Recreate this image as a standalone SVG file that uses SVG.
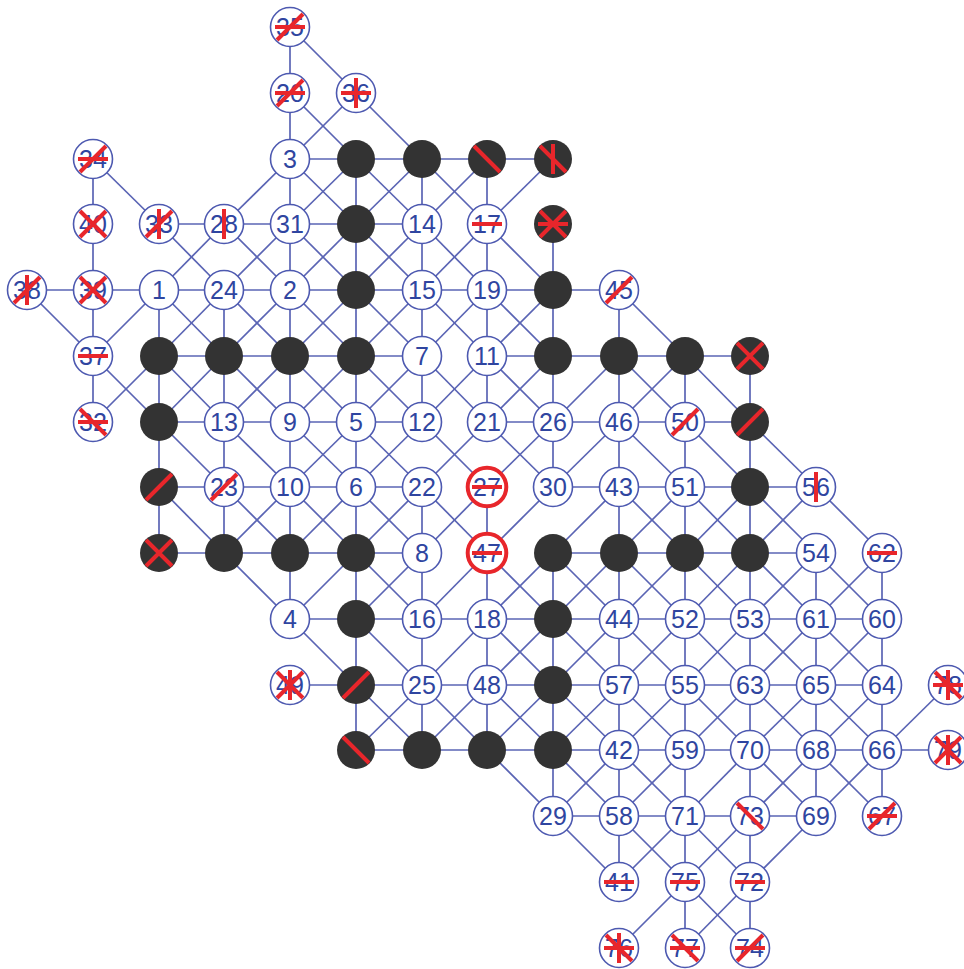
<svg xmlns="http://www.w3.org/2000/svg" width="964" height="969" viewBox="0 0 964 969">
<style>
.e line{stroke:#5a64b4;stroke-width:1.7}
.w{fill:#fff;stroke:#4d59b0;stroke-width:1.6}
.k{fill:#333}
.r{fill:#fff;stroke:#e8262b;stroke-width:4}
text{font-family:"Liberation Sans",Arial,sans-serif;font-size:25px;fill:#2f45a0;text-anchor:middle}
.m{stroke:#e8262b;stroke-width:4;fill:none}
</style>
<rect width="964" height="969" fill="#fff"/>
<g class="e" id="connectors">
<!-- horizontal -->
<line x1="290" y1="159" x2="356" y2="159"/><line x1="356" y1="159" x2="422" y2="159"/><line x1="422" y1="159" x2="487" y2="159"/><line x1="487" y1="159" x2="553" y2="159"/>
<line x1="159" y1="224" x2="224" y2="224"/><line x1="224" y1="224" x2="290" y2="224"/><line x1="290" y1="224" x2="356" y2="224"/><line x1="356" y1="224" x2="422" y2="224"/>
<line x1="27" y1="290" x2="93" y2="290"/><line x1="93" y1="290" x2="159" y2="290"/><line x1="159" y1="290" x2="224" y2="290"/><line x1="224" y1="290" x2="290" y2="290"/><line x1="290" y1="290" x2="356" y2="290"/><line x1="356" y1="290" x2="422" y2="290"/><line x1="422" y1="290" x2="487" y2="290"/><line x1="487" y1="290" x2="553" y2="290"/><line x1="553" y1="290" x2="619" y2="290"/>
<line x1="159" y1="356" x2="224" y2="356"/><line x1="224" y1="356" x2="290" y2="356"/><line x1="290" y1="356" x2="356" y2="356"/><line x1="356" y1="356" x2="422" y2="356"/><line x1="487" y1="356" x2="553" y2="356"/><line x1="553" y1="356" x2="619" y2="356"/><line x1="619" y1="356" x2="685" y2="356"/><line x1="685" y1="356" x2="750" y2="356"/>
<line x1="159" y1="422" x2="224" y2="422"/><line x1="224" y1="422" x2="290" y2="422"/><line x1="290" y1="422" x2="356" y2="422"/><line x1="356" y1="422" x2="422" y2="422"/><line x1="487" y1="422" x2="553" y2="422"/><line x1="553" y1="422" x2="619" y2="422"/><line x1="619" y1="422" x2="685" y2="422"/><line x1="685" y1="422" x2="750" y2="422"/>
<line x1="159" y1="487" x2="224" y2="487"/><line x1="224" y1="487" x2="290" y2="487"/><line x1="290" y1="487" x2="356" y2="487"/><line x1="356" y1="487" x2="422" y2="487"/><line x1="553" y1="487" x2="619" y2="487"/><line x1="619" y1="487" x2="685" y2="487"/><line x1="685" y1="487" x2="750" y2="487"/><line x1="750" y1="487" x2="816" y2="487"/>
<line x1="159" y1="553" x2="224" y2="553"/><line x1="224" y1="553" x2="290" y2="553"/><line x1="290" y1="553" x2="356" y2="553"/><line x1="356" y1="553" x2="422" y2="553"/><line x1="553" y1="553" x2="619" y2="553"/><line x1="619" y1="553" x2="685" y2="553"/><line x1="685" y1="553" x2="750" y2="553"/><line x1="750" y1="553" x2="816" y2="553"/>
<line x1="290" y1="619" x2="356" y2="619"/><line x1="356" y1="619" x2="422" y2="619"/><line x1="422" y1="619" x2="487" y2="619"/><line x1="487" y1="619" x2="553" y2="619"/><line x1="553" y1="619" x2="619" y2="619"/><line x1="619" y1="619" x2="685" y2="619"/><line x1="685" y1="619" x2="750" y2="619"/><line x1="750" y1="619" x2="816" y2="619"/><line x1="816" y1="619" x2="882" y2="619"/>
<line x1="290" y1="685" x2="356" y2="685"/><line x1="356" y1="685" x2="422" y2="685"/><line x1="422" y1="685" x2="487" y2="685"/><line x1="487" y1="685" x2="553" y2="685"/><line x1="553" y1="685" x2="619" y2="685"/><line x1="619" y1="685" x2="685" y2="685"/><line x1="685" y1="685" x2="750" y2="685"/><line x1="750" y1="685" x2="816" y2="685"/><line x1="816" y1="685" x2="882" y2="685"/>
<line x1="356" y1="750" x2="422" y2="750"/><line x1="422" y1="750" x2="487" y2="750"/><line x1="487" y1="750" x2="553" y2="750"/><line x1="553" y1="750" x2="619" y2="750"/><line x1="619" y1="750" x2="685" y2="750"/><line x1="685" y1="750" x2="750" y2="750"/><line x1="750" y1="750" x2="816" y2="750"/><line x1="816" y1="750" x2="882" y2="750"/><line x1="882" y1="750" x2="948" y2="750"/>
<line x1="553" y1="816" x2="619" y2="816"/><line x1="619" y1="816" x2="685" y2="816"/><line x1="685" y1="816" x2="750" y2="816"/><line x1="750" y1="816" x2="816" y2="816"/>
<!-- vertical -->
<line x1="93" y1="159" x2="93" y2="224"/><line x1="93" y1="224" x2="93" y2="290"/><line x1="93" y1="290" x2="93" y2="356"/><line x1="93" y1="356" x2="93" y2="422"/>
<line x1="159" y1="290" x2="159" y2="356"/><line x1="159" y1="356" x2="159" y2="422"/><line x1="159" y1="422" x2="159" y2="487"/><line x1="159" y1="487" x2="159" y2="553"/>
<line x1="224" y1="290" x2="224" y2="356"/><line x1="224" y1="356" x2="224" y2="422"/><line x1="224" y1="422" x2="224" y2="487"/><line x1="224" y1="487" x2="224" y2="553"/>
<line x1="290" y1="27" x2="290" y2="93"/><line x1="290" y1="93" x2="290" y2="159"/><line x1="290" y1="159" x2="290" y2="224"/><line x1="290" y1="224" x2="290" y2="290"/><line x1="290" y1="290" x2="290" y2="356"/><line x1="290" y1="356" x2="290" y2="422"/><line x1="290" y1="422" x2="290" y2="487"/><line x1="290" y1="487" x2="290" y2="553"/><line x1="290" y1="553" x2="290" y2="619"/>
<line x1="356" y1="159" x2="356" y2="224"/><line x1="356" y1="224" x2="356" y2="290"/><line x1="356" y1="290" x2="356" y2="356"/><line x1="356" y1="356" x2="356" y2="422"/><line x1="356" y1="422" x2="356" y2="487"/><line x1="356" y1="487" x2="356" y2="553"/><line x1="356" y1="553" x2="356" y2="619"/><line x1="356" y1="619" x2="356" y2="685"/><line x1="356" y1="685" x2="356" y2="750"/>
<line x1="422" y1="159" x2="422" y2="224"/><line x1="422" y1="224" x2="422" y2="290"/><line x1="422" y1="290" x2="422" y2="356"/><line x1="422" y1="356" x2="422" y2="422"/><line x1="422" y1="487" x2="422" y2="553"/><line x1="422" y1="553" x2="422" y2="619"/><line x1="422" y1="619" x2="422" y2="685"/><line x1="422" y1="685" x2="422" y2="750"/>
<line x1="487" y1="159" x2="487" y2="224"/><line x1="487" y1="224" x2="487" y2="290"/><line x1="487" y1="290" x2="487" y2="356"/><line x1="487" y1="356" x2="487" y2="422"/><line x1="487" y1="487" x2="487" y2="553"/><line x1="487" y1="553" x2="487" y2="619"/><line x1="487" y1="619" x2="487" y2="685"/><line x1="487" y1="685" x2="487" y2="750"/>
<line x1="553" y1="224" x2="553" y2="290"/><line x1="553" y1="290" x2="553" y2="356"/><line x1="553" y1="356" x2="553" y2="422"/><line x1="553" y1="422" x2="553" y2="487"/><line x1="553" y1="553" x2="553" y2="619"/><line x1="553" y1="619" x2="553" y2="685"/><line x1="553" y1="685" x2="553" y2="750"/><line x1="553" y1="750" x2="553" y2="816"/>
<line x1="619" y1="290" x2="619" y2="356"/><line x1="619" y1="356" x2="619" y2="422"/><line x1="619" y1="422" x2="619" y2="487"/><line x1="619" y1="487" x2="619" y2="553"/><line x1="619" y1="553" x2="619" y2="619"/><line x1="619" y1="619" x2="619" y2="685"/><line x1="619" y1="685" x2="619" y2="750"/><line x1="619" y1="750" x2="619" y2="816"/><line x1="619" y1="816" x2="619" y2="882"/>
<line x1="685" y1="356" x2="685" y2="422"/><line x1="685" y1="422" x2="685" y2="487"/><line x1="685" y1="487" x2="685" y2="553"/><line x1="685" y1="553" x2="685" y2="619"/><line x1="685" y1="619" x2="685" y2="685"/><line x1="685" y1="685" x2="685" y2="750"/><line x1="685" y1="750" x2="685" y2="816"/><line x1="685" y1="816" x2="685" y2="882"/><line x1="685" y1="882" x2="685" y2="948"/>
<line x1="750" y1="356" x2="750" y2="422"/><line x1="750" y1="422" x2="750" y2="487"/><line x1="750" y1="487" x2="750" y2="553"/><line x1="750" y1="553" x2="750" y2="619"/><line x1="750" y1="619" x2="750" y2="685"/><line x1="750" y1="685" x2="750" y2="750"/><line x1="750" y1="750" x2="750" y2="816"/><line x1="750" y1="816" x2="750" y2="882"/><line x1="750" y1="882" x2="750" y2="948"/>
<line x1="816" y1="553" x2="816" y2="619"/><line x1="816" y1="619" x2="816" y2="685"/><line x1="816" y1="685" x2="816" y2="750"/><line x1="816" y1="750" x2="816" y2="816"/>
<line x1="882" y1="553" x2="882" y2="619"/><line x1="882" y1="619" x2="882" y2="685"/><line x1="882" y1="685" x2="882" y2="750"/><line x1="882" y1="750" x2="882" y2="816"/>
<!-- diagonal -->
<line x1="290" y1="27" x2="356" y2="93"/>
<line x1="290" y1="93" x2="356" y2="159"/><line x1="356" y1="93" x2="290" y2="159"/><line x1="356" y1="93" x2="422" y2="159"/>
<line x1="93" y1="159" x2="159" y2="224"/><line x1="290" y1="159" x2="224" y2="224"/>
<line x1="290" y1="159" x2="356" y2="224"/><line x1="356" y1="159" x2="290" y2="224"/>
<line x1="356" y1="159" x2="422" y2="224"/><line x1="422" y1="159" x2="356" y2="224"/>
<line x1="422" y1="159" x2="487" y2="224"/><line x1="487" y1="159" x2="422" y2="224"/>
<line x1="553" y1="159" x2="487" y2="224"/>
<line x1="159" y1="224" x2="224" y2="290"/><line x1="224" y1="224" x2="159" y2="290"/>
<line x1="224" y1="224" x2="290" y2="290"/><line x1="290" y1="224" x2="224" y2="290"/>
<line x1="290" y1="224" x2="356" y2="290"/><line x1="356" y1="224" x2="290" y2="290"/>
<line x1="356" y1="224" x2="422" y2="290"/><line x1="422" y1="224" x2="356" y2="290"/>
<line x1="422" y1="224" x2="487" y2="290"/><line x1="487" y1="224" x2="422" y2="290"/>
<line x1="487" y1="224" x2="553" y2="290"/>
<line x1="27" y1="290" x2="93" y2="356"/><line x1="159" y1="290" x2="93" y2="356"/>
<line x1="159" y1="290" x2="224" y2="356"/><line x1="224" y1="290" x2="159" y2="356"/>
<line x1="224" y1="290" x2="290" y2="356"/><line x1="290" y1="290" x2="224" y2="356"/>
<line x1="290" y1="290" x2="356" y2="356"/><line x1="356" y1="290" x2="290" y2="356"/>
<line x1="356" y1="290" x2="422" y2="356"/><line x1="422" y1="290" x2="356" y2="356"/>
<line x1="422" y1="290" x2="487" y2="356"/><line x1="487" y1="290" x2="422" y2="356"/>
<line x1="487" y1="290" x2="553" y2="356"/><line x1="553" y1="290" x2="487" y2="356"/>
<line x1="619" y1="290" x2="685" y2="356"/>
<line x1="93" y1="356" x2="159" y2="422"/><line x1="159" y1="356" x2="93" y2="422"/>
<line x1="159" y1="356" x2="224" y2="422"/><line x1="224" y1="356" x2="159" y2="422"/>
<line x1="224" y1="356" x2="290" y2="422"/><line x1="290" y1="356" x2="224" y2="422"/>
<line x1="290" y1="356" x2="356" y2="422"/><line x1="356" y1="356" x2="290" y2="422"/>
<line x1="356" y1="356" x2="422" y2="422"/><line x1="422" y1="356" x2="356" y2="422"/>
<line x1="422" y1="356" x2="487" y2="422"/><line x1="487" y1="356" x2="422" y2="422"/>
<line x1="487" y1="356" x2="553" y2="422"/><line x1="553" y1="356" x2="487" y2="422"/>
<line x1="619" y1="356" x2="553" y2="422"/>
<line x1="619" y1="356" x2="685" y2="422"/><line x1="685" y1="356" x2="619" y2="422"/>
<line x1="685" y1="356" x2="750" y2="422"/>
<line x1="159" y1="422" x2="224" y2="487"/><line x1="224" y1="422" x2="290" y2="487"/>
<line x1="290" y1="422" x2="356" y2="487"/><line x1="356" y1="422" x2="290" y2="487"/>
<line x1="356" y1="422" x2="422" y2="487"/><line x1="422" y1="422" x2="356" y2="487"/>
<line x1="422" y1="422" x2="487" y2="487"/><line x1="487" y1="422" x2="422" y2="487"/>
<line x1="487" y1="422" x2="553" y2="487"/><line x1="553" y1="422" x2="487" y2="487"/>
<line x1="619" y1="422" x2="553" y2="487"/><line x1="619" y1="422" x2="685" y2="487"/>
<line x1="685" y1="422" x2="750" y2="487"/><line x1="750" y1="422" x2="816" y2="487"/>
<line x1="159" y1="487" x2="224" y2="553"/>
<line x1="224" y1="487" x2="290" y2="553"/><line x1="290" y1="487" x2="224" y2="553"/>
<line x1="290" y1="487" x2="356" y2="553"/><line x1="356" y1="487" x2="290" y2="553"/>
<line x1="356" y1="487" x2="422" y2="553"/><line x1="422" y1="487" x2="356" y2="553"/>
<line x1="422" y1="487" x2="487" y2="553"/><line x1="487" y1="487" x2="422" y2="553"/>
<line x1="553" y1="487" x2="487" y2="553"/><line x1="619" y1="487" x2="553" y2="553"/>
<line x1="619" y1="487" x2="685" y2="553"/><line x1="685" y1="487" x2="619" y2="553"/>
<line x1="685" y1="487" x2="750" y2="553"/><line x1="750" y1="487" x2="685" y2="553"/>
<line x1="750" y1="487" x2="816" y2="553"/><line x1="816" y1="487" x2="750" y2="553"/>
<line x1="816" y1="487" x2="882" y2="553"/>
<line x1="224" y1="553" x2="290" y2="619"/><line x1="356" y1="553" x2="290" y2="619"/>
<line x1="356" y1="553" x2="422" y2="619"/><line x1="422" y1="553" x2="356" y2="619"/>
<line x1="487" y1="553" x2="422" y2="619"/>
<line x1="487" y1="553" x2="553" y2="619"/><line x1="553" y1="553" x2="487" y2="619"/>
<line x1="553" y1="553" x2="619" y2="619"/><line x1="619" y1="553" x2="553" y2="619"/>
<line x1="619" y1="553" x2="685" y2="619"/><line x1="685" y1="553" x2="619" y2="619"/>
<line x1="685" y1="553" x2="750" y2="619"/><line x1="750" y1="553" x2="685" y2="619"/>
<line x1="750" y1="553" x2="816" y2="619"/><line x1="816" y1="553" x2="750" y2="619"/>
<line x1="816" y1="553" x2="882" y2="619"/><line x1="882" y1="553" x2="816" y2="619"/>
<line x1="290" y1="619" x2="356" y2="685"/><line x1="356" y1="619" x2="422" y2="685"/>
<line x1="487" y1="619" x2="422" y2="685"/>
<line x1="487" y1="619" x2="553" y2="685"/><line x1="553" y1="619" x2="487" y2="685"/>
<line x1="553" y1="619" x2="619" y2="685"/><line x1="619" y1="619" x2="553" y2="685"/>
<line x1="619" y1="619" x2="685" y2="685"/><line x1="685" y1="619" x2="619" y2="685"/>
<line x1="685" y1="619" x2="750" y2="685"/><line x1="750" y1="619" x2="685" y2="685"/>
<line x1="750" y1="619" x2="816" y2="685"/><line x1="816" y1="619" x2="750" y2="685"/>
<line x1="816" y1="619" x2="882" y2="685"/><line x1="882" y1="619" x2="816" y2="685"/>
<line x1="356" y1="685" x2="422" y2="750"/><line x1="422" y1="685" x2="356" y2="750"/>
<line x1="422" y1="685" x2="487" y2="750"/><line x1="487" y1="685" x2="422" y2="750"/>
<line x1="487" y1="685" x2="553" y2="750"/><line x1="553" y1="685" x2="487" y2="750"/>
<line x1="553" y1="685" x2="619" y2="750"/><line x1="619" y1="685" x2="553" y2="750"/>
<line x1="619" y1="685" x2="685" y2="750"/><line x1="685" y1="685" x2="619" y2="750"/>
<line x1="685" y1="685" x2="750" y2="750"/><line x1="750" y1="685" x2="685" y2="750"/>
<line x1="750" y1="685" x2="816" y2="750"/><line x1="816" y1="685" x2="750" y2="750"/>
<line x1="816" y1="685" x2="882" y2="750"/><line x1="882" y1="685" x2="816" y2="750"/>
<line x1="948" y1="685" x2="882" y2="750"/>
<line x1="487" y1="750" x2="553" y2="816"/>
<line x1="553" y1="750" x2="619" y2="816"/><line x1="619" y1="750" x2="553" y2="816"/>
<line x1="619" y1="750" x2="685" y2="816"/><line x1="685" y1="750" x2="619" y2="816"/>
<line x1="750" y1="750" x2="685" y2="816"/>
<line x1="750" y1="750" x2="816" y2="816"/><line x1="816" y1="750" x2="750" y2="816"/>
<line x1="816" y1="750" x2="882" y2="816"/><line x1="882" y1="750" x2="816" y2="816"/>
<line x1="553" y1="816" x2="619" y2="882"/>
<line x1="619" y1="816" x2="685" y2="882"/><line x1="685" y1="816" x2="619" y2="882"/>
<line x1="685" y1="816" x2="750" y2="882"/><line x1="750" y1="816" x2="685" y2="882"/>
<line x1="816" y1="816" x2="750" y2="882"/>
<line x1="685" y1="882" x2="619" y2="948"/>
<line x1="685" y1="882" x2="750" y2="948"/><line x1="750" y1="882" x2="685" y2="948"/>
</g>
<g id="nodes">
<g id="n35" transform="translate(290,27)"><circle class="w" r="19.5"/><text y="9">35</text><path class="m" d="M-13 13L13-13M-15 0H15"/></g>
<g id="n20" transform="translate(290,93)"><circle class="w" r="19.5"/><text y="9">20</text><path class="m" d="M-13 13L13-13M-15 0H15"/></g>
<g id="n36" transform="translate(356,93)"><circle class="w" r="19.5"/><text y="9">36</text><path class="m" d="M-15 0H15M0-15V15"/></g>
<g id="n34" transform="translate(93,159)"><circle class="w" r="19.5"/><text y="9">34</text><path class="m" d="M-13 13L13-13M-15 0H15"/></g>
<g id="n3" transform="translate(290,159)"><circle class="w" r="19.5"/><text y="9">3</text></g>
<g id="n40" transform="translate(93,224)"><circle class="w" r="19.5"/><text y="9">40</text><path class="m" d="M-13 13L13-13M-13-13L13 13"/></g>
<g id="n33" transform="translate(159,224)"><circle class="w" r="19.5"/><text y="9">33</text><path class="m" d="M-13 13L13-13M0-15V15"/></g>
<g id="n28" transform="translate(224,224)"><circle class="w" r="19.5"/><text y="9">28</text><path class="m" d="M0-15V15"/></g>
<g id="n31" transform="translate(290,224)"><circle class="w" r="19.5"/><text y="9">31</text></g>
<g id="n14" transform="translate(422,224)"><circle class="w" r="19.5"/><text y="9">14</text></g>
<g id="n17" transform="translate(487,224)"><circle class="w" r="19.5"/><text y="9">17</text><path class="m" d="M-15 0H15"/></g>
<g id="n38" transform="translate(27,290)"><circle class="w" r="19.5"/><text y="9">38</text><path class="m" d="M-13 13L13-13M0-15V15"/></g>
<g id="n39" transform="translate(93,290)"><circle class="w" r="19.5"/><text y="9">39</text><path class="m" d="M-13 13L13-13M-13-13L13 13"/></g>
<g id="n1" transform="translate(159,290)"><circle class="w" r="19.5"/><text y="9">1</text></g>
<g id="n24" transform="translate(224,290)"><circle class="w" r="19.5"/><text y="9">24</text></g>
<g id="n2" transform="translate(290,290)"><circle class="w" r="19.5"/><text y="9">2</text></g>
<g id="n15" transform="translate(422,290)"><circle class="w" r="19.5"/><text y="9">15</text></g>
<g id="n19" transform="translate(487,290)"><circle class="w" r="19.5"/><text y="9">19</text></g>
<g id="n45" transform="translate(619,290)"><circle class="w" r="19.5"/><text y="9">45</text><path class="m" d="M-13 13L13-13"/></g>
<g id="n37" transform="translate(93,356)"><circle class="w" r="19.5"/><text y="9">37</text><path class="m" d="M-15 0H15"/></g>
<g id="n7" transform="translate(422,356)"><circle class="w" r="19.5"/><text y="9">7</text></g>
<g id="n11" transform="translate(487,356)"><circle class="w" r="19.5"/><text y="9">11</text></g>
<g id="n32" transform="translate(93,422)"><circle class="w" r="19.5"/><text y="9">32</text><path class="m" d="M-13-13L13 13M-15 0H15"/></g>
<g id="n13" transform="translate(224,422)"><circle class="w" r="19.5"/><text y="9">13</text></g>
<g id="n9" transform="translate(290,422)"><circle class="w" r="19.5"/><text y="9">9</text></g>
<g id="n5" transform="translate(356,422)"><circle class="w" r="19.5"/><text y="9">5</text></g>
<g id="n12" transform="translate(422,422)"><circle class="w" r="19.5"/><text y="9">12</text></g>
<g id="n21" transform="translate(487,422)"><circle class="w" r="19.5"/><text y="9">21</text></g>
<g id="n26" transform="translate(553,422)"><circle class="w" r="19.5"/><text y="9">26</text></g>
<g id="n46" transform="translate(619,422)"><circle class="w" r="19.5"/><text y="9">46</text></g>
<g id="n50" transform="translate(685,422)"><circle class="w" r="19.5"/><text y="9">50</text><path class="m" d="M-13 13L13-13"/></g>
<g id="n23" transform="translate(224,487)"><circle class="w" r="19.5"/><text y="9">23</text><path class="m" d="M-13 13L13-13"/></g>
<g id="n10" transform="translate(290,487)"><circle class="w" r="19.5"/><text y="9">10</text></g>
<g id="n6" transform="translate(356,487)"><circle class="w" r="19.5"/><text y="9">6</text></g>
<g id="n22" transform="translate(422,487)"><circle class="w" r="19.5"/><text y="9">22</text></g>
<g id="n27" transform="translate(487,487)"><circle class="r" r="19.3"/><text y="9">27</text><path class="m" d="M-15 0H15"/></g>
<g id="n30" transform="translate(553,487)"><circle class="w" r="19.5"/><text y="9">30</text></g>
<g id="n43" transform="translate(619,487)"><circle class="w" r="19.5"/><text y="9">43</text></g>
<g id="n51" transform="translate(685,487)"><circle class="w" r="19.5"/><text y="9">51</text></g>
<g id="n56" transform="translate(816,487)"><circle class="w" r="19.5"/><text y="9">56</text><path class="m" d="M0-15V15"/></g>
<g id="n8" transform="translate(422,553)"><circle class="w" r="19.5"/><text y="9">8</text></g>
<g id="n47" transform="translate(487,553)"><circle class="r" r="19.3"/><text y="9">47</text><path class="m" d="M-15 0H15"/></g>
<g id="n54" transform="translate(816,553)"><circle class="w" r="19.5"/><text y="9">54</text></g>
<g id="n62" transform="translate(882,553)"><circle class="w" r="19.5"/><text y="9">62</text><path class="m" d="M-15 0H15"/></g>
<g id="n4" transform="translate(290,619)"><circle class="w" r="19.5"/><text y="9">4</text></g>
<g id="n16" transform="translate(422,619)"><circle class="w" r="19.5"/><text y="9">16</text></g>
<g id="n18" transform="translate(487,619)"><circle class="w" r="19.5"/><text y="9">18</text></g>
<g id="n44" transform="translate(619,619)"><circle class="w" r="19.5"/><text y="9">44</text></g>
<g id="n52" transform="translate(685,619)"><circle class="w" r="19.5"/><text y="9">52</text></g>
<g id="n53" transform="translate(750,619)"><circle class="w" r="19.5"/><text y="9">53</text></g>
<g id="n61" transform="translate(816,619)"><circle class="w" r="19.5"/><text y="9">61</text></g>
<g id="n60" transform="translate(882,619)"><circle class="w" r="19.5"/><text y="9">60</text></g>
<g id="n49" transform="translate(290,685)"><circle class="w" r="19.5"/><text y="9">49</text><path class="m" d="M-13 13L13-13M-13-13L13 13M0-15V15"/></g>
<g id="n25" transform="translate(422,685)"><circle class="w" r="19.5"/><text y="9">25</text></g>
<g id="n48" transform="translate(487,685)"><circle class="w" r="19.5"/><text y="9">48</text></g>
<g id="n57" transform="translate(619,685)"><circle class="w" r="19.5"/><text y="9">57</text></g>
<g id="n55" transform="translate(685,685)"><circle class="w" r="19.5"/><text y="9">55</text></g>
<g id="n63" transform="translate(750,685)"><circle class="w" r="19.5"/><text y="9">63</text></g>
<g id="n65" transform="translate(816,685)"><circle class="w" r="19.5"/><text y="9">65</text></g>
<g id="n64" transform="translate(882,685)"><circle class="w" r="19.5"/><text y="9">64</text></g>
<g id="n78" transform="translate(948,685)"><circle class="w" r="19.5"/><text y="9">78</text><path class="m" d="M-13-13L13 13M-15 0H15M0-15V15"/></g>
<g id="n42" transform="translate(619,750)"><circle class="w" r="19.5"/><text y="9">42</text></g>
<g id="n59" transform="translate(685,750)"><circle class="w" r="19.5"/><text y="9">59</text></g>
<g id="n70" transform="translate(750,750)"><circle class="w" r="19.5"/><text y="9">70</text></g>
<g id="n68" transform="translate(816,750)"><circle class="w" r="19.5"/><text y="9">68</text></g>
<g id="n66" transform="translate(882,750)"><circle class="w" r="19.5"/><text y="9">66</text></g>
<g id="n79" transform="translate(948,750)"><circle class="w" r="19.5"/><text y="9">79</text><path class="m" d="M-13 13L13-13M-13-13L13 13M0-15V15"/></g>
<g id="n29" transform="translate(553,816)"><circle class="w" r="19.5"/><text y="9">29</text></g>
<g id="n58" transform="translate(619,816)"><circle class="w" r="19.5"/><text y="9">58</text></g>
<g id="n71" transform="translate(685,816)"><circle class="w" r="19.5"/><text y="9">71</text></g>
<g id="n73" transform="translate(750,816)"><circle class="w" r="19.5"/><text y="9">73</text><path class="m" d="M-13-13L13 13"/></g>
<g id="n69" transform="translate(816,816)"><circle class="w" r="19.5"/><text y="9">69</text></g>
<g id="n67" transform="translate(882,816)"><circle class="w" r="19.5"/><text y="9">67</text><path class="m" d="M-13 13L13-13M-15 0H15"/></g>
<g id="n41" transform="translate(619,882)"><circle class="w" r="19.5"/><text y="9">41</text><path class="m" d="M-15 0H15"/></g>
<g id="n75" transform="translate(685,882)"><circle class="w" r="19.5"/><text y="9">75</text><path class="m" d="M-15 0H15"/></g>
<g id="n72" transform="translate(750,882)"><circle class="w" r="19.5"/><text y="9">72</text><path class="m" d="M-15 0H15"/></g>
<g id="n76" transform="translate(619,948)"><circle class="w" r="19.5"/><text y="9">76</text><path class="m" d="M-13-13L13 13M-15 0H15M0-15V15"/></g>
<g id="n77" transform="translate(685,948)"><circle class="w" r="19.5"/><text y="9">77</text><path class="m" d="M-13-13L13 13M-15 0H15"/></g>
<g id="n74" transform="translate(750,948)"><circle class="w" r="19.5"/><text y="9">74</text><path class="m" d="M-13 13L13-13M-15 0H15"/></g>
<!-- black nodes -->
<g id="b5_2" transform="translate(356,159)"><circle class="k" r="19"/></g>
<g id="b6_2" transform="translate(422,159)"><circle class="k" r="19"/></g>
<g id="b7_2" transform="translate(487,159)"><circle class="k" r="19"/><path class="m" d="M-13-13L13 13"/></g>
<g id="b8_2" transform="translate(553,159)"><circle class="k" r="19"/><path class="m" d="M-13-13L13 13M0-15V15"/></g>
<g id="b5_3" transform="translate(356,224)"><circle class="k" r="19"/></g>
<g id="b8_3" transform="translate(553,224)"><circle class="k" r="19"/><path class="m" d="M-13 13L13-13M-13-13L13 13M-15 0H15"/></g>
<g id="b5_4" transform="translate(356,290)"><circle class="k" r="19"/></g>
<g id="b8_4" transform="translate(553,290)"><circle class="k" r="19"/></g>
<g id="b2_5" transform="translate(159,356)"><circle class="k" r="19"/></g>
<g id="b3_5" transform="translate(224,356)"><circle class="k" r="19"/></g>
<g id="b4_5" transform="translate(290,356)"><circle class="k" r="19"/></g>
<g id="b5_5" transform="translate(356,356)"><circle class="k" r="19"/></g>
<g id="b8_5" transform="translate(553,356)"><circle class="k" r="19"/></g>
<g id="b9_5" transform="translate(619,356)"><circle class="k" r="19"/></g>
<g id="b10_5" transform="translate(685,356)"><circle class="k" r="19"/></g>
<g id="b11_5" transform="translate(750,356)"><circle class="k" r="19"/><path class="m" d="M-13 13L13-13M-13-13L13 13"/></g>
<g id="b2_6" transform="translate(159,422)"><circle class="k" r="19"/></g>
<g id="b11_6" transform="translate(750,422)"><circle class="k" r="19"/><path class="m" d="M-13 13L13-13"/></g>
<g id="b2_7" transform="translate(159,487)"><circle class="k" r="19"/><path class="m" d="M-13 13L13-13"/></g>
<g id="b11_7" transform="translate(750,487)"><circle class="k" r="19"/></g>
<g id="b2_8" transform="translate(159,553)"><circle class="k" r="19"/><path class="m" d="M-13 13L13-13M-13-13L13 13"/></g>
<g id="b3_8" transform="translate(224,553)"><circle class="k" r="19"/></g>
<g id="b4_8" transform="translate(290,553)"><circle class="k" r="19"/></g>
<g id="b5_8" transform="translate(356,553)"><circle class="k" r="19"/></g>
<g id="b8_8" transform="translate(553,553)"><circle class="k" r="19"/></g>
<g id="b9_8" transform="translate(619,553)"><circle class="k" r="19"/></g>
<g id="b10_8" transform="translate(685,553)"><circle class="k" r="19"/></g>
<g id="b11_8" transform="translate(750,553)"><circle class="k" r="19"/></g>
<g id="b5_9" transform="translate(356,619)"><circle class="k" r="19"/></g>
<g id="b8_9" transform="translate(553,619)"><circle class="k" r="19"/></g>
<g id="b5_10" transform="translate(356,685)"><circle class="k" r="19"/><path class="m" d="M-13 13L13-13"/></g>
<g id="b8_10" transform="translate(553,685)"><circle class="k" r="19"/></g>
<g id="b5_11" transform="translate(356,750)"><circle class="k" r="19"/><path class="m" d="M-13-13L13 13"/></g>
<g id="b6_11" transform="translate(422,750)"><circle class="k" r="19"/></g>
<g id="b7_11" transform="translate(487,750)"><circle class="k" r="19"/></g>
<g id="b8_11" transform="translate(553,750)"><circle class="k" r="19"/></g>
</g>
</svg>
